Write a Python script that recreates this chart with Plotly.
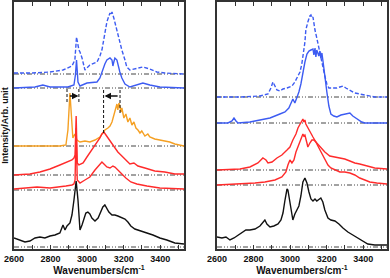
import plotly.graph_objects as go

# ---------------- data (wavenumber / cm-1, intensity above baseline, arb. units) ----------------
X_RANGE = [2600, 3530]
TICK_VALS = [2600, 2800, 3000, 3200, 3400]
TICK_TEXT = ["2600", "2800", "3000", "3200", "3400"]

# left panel
bd_l_w = [2600, 2700, 2797, 2868, 2917, 2933, 2942, 2950, 2955, 2961, 2972, 2988, 3015, 3054, 3070, 3081, 3092,
          3103, 3108, 3119, 3125, 3130, 3136, 3146, 3157, 3168, 3179, 3190, 3207, 3217, 3234, 3261, 3305, 3343,
          3381, 3425, 3530]
bd_l_h = [1, 1, 2, 4, 8, 14, 37, 26, 24, 22, 16, 4, 9, 12, 18, 24, 34, 46, 52, 58, 61, 59, 62, 56, 48, 40, 30,
          24, 14, 7, 4, 5, 7, 5, 2, 1, 0]
bd_l_off = 175

bs_l_w = [2600, 2715, 2758, 2797, 2895, 2928, 2936, 2942, 2950, 2961, 2999, 3054, 3070, 3081, 3097, 3108, 3125,
          3136, 3141, 3146, 3152, 3163, 3168, 3179, 3190, 3207, 3234, 3272, 3305, 3343, 3398, 3530]
bs_l_h = [0, 1, 3, 1, 1, 3, 13, 28, 6, 2, 5, 6, 10, 16, 24, 28, 30, 28, 22, 26, 30, 28, 23, 16, 10, 4, 1, 3, 5,
          3, 1, 0]
bs_l_off = 161

or_w = [2600, 2851, 2884, 2895, 2906, 2911, 2917, 2922, 2933, 2944, 2961, 2988, 3015, 3043, 3070, 3086, 3097,
        3114, 3125, 3136, 3146, 3157, 3163, 3168, 3174, 3179, 3185, 3190, 3201, 3212, 3223, 3234, 3245, 3256,
        3267, 3278, 3289, 3299, 3316, 3332, 3343, 3370, 3398, 3425, 3452, 3480, 3507, 3530]
or_h = [0, 0, 1, 16, 53, 36, 11, 8, 12, 6, 4, 5, 4, 6, 9, 13, 16, 18, 20, 24, 31, 38, 42, 36, 43, 40, 34, 38,
        28, 32, 24, 28, 21, 24, 18, 16, 13, 15, 10, 12, 9, 7, 6, 5, 4, 2, 1, 0]
or_off = 103

ra_w = [2600, 2687, 2742, 2797, 2851, 2890, 2917, 2928, 2934, 2940, 2946, 2955, 2978, 2999, 3026, 3054, 3070,
        3081, 3092, 3103, 3114, 3130, 3146, 3168, 3190, 3212, 3234, 3256, 3278, 3316, 3370, 3425, 3480, 3530]
ra_h = [0, 1, 3, 6, 10, 13, 15, 17, 20, 59, 12, 10, 12, 18, 25, 32, 37, 41, 43, 40, 37, 33, 29, 23, 19, 15, 11,
        12, 9, 7, 4, 3, 1, 1]
ra_off = 74

rb_w = [2600, 2660, 2726, 2797, 2851, 2884, 2917, 2928, 2934, 2940, 2946, 2961, 2988, 3015, 3043, 3070, 3081,
        3092, 3108, 3125, 3141, 3152, 3168, 3190, 3212, 3239, 3272, 3327, 3398, 3530]
rb_h = [1, 2, 3, 2, 3, 4, 5, 6, 10, 62, 10, 7, 10, 13, 20, 26, 28, 26, 23, 22, 24, 23, 20, 16, 12, 8, 6, 4, 2, 1]
rb_off = 59

bk_l_w = [2600, 2633, 2660, 2687, 2715, 2742, 2769, 2797, 2824, 2851, 2862, 2868, 2879, 2890, 2906, 2917, 2928,
          2940, 2950, 2955, 2961, 2972, 2983, 2993, 3004, 3015, 3026, 3043, 3060, 3075, 3086, 3097, 3108, 3119,
          3136, 3152, 3168, 3185, 3207, 3223, 3239, 3261, 3289, 3327, 3360, 3398, 3436, 3480, 3530]
bk_l_h = [9, 7, 5, 6, 9, 10, 9, 11, 12, 14, 19, 22, 17, 21, 24, 32, 47, 66, 47, 27, 17, 22, 29, 34, 35, 33, 29,
          26, 29, 35, 40, 42, 39, 35, 32, 32, 31, 30, 28, 25, 21, 18, 16, 14, 12, 9, 7, 4, 3]
bk_l_off = 2

# right panel
bd_r_w = [2600, 2726, 2835, 2879, 2895, 2906, 2917, 2928, 2944, 2961, 2983, 2999, 3010, 3026, 3043, 3054, 3064,
          3070, 3075, 3081, 3086, 3097, 3103, 3108, 3114, 3119, 3125, 3130, 3136, 3146, 3157, 3168, 3179, 3190,
          3201, 3212, 3234, 3256, 3272, 3289, 3305, 3327, 3354, 3381, 3409, 3425, 3463, 3530]
bd_r_h = [0, 0, 1, 3, 9, 15, 11, 7, 6, 8, 9, 10, 11, 15, 21, 25, 33, 39, 47, 55, 67, 75, 79, 81, 82, 79, 80, 72,
          67, 59, 49, 39, 30, 21, 13, 9, 9, 9, 10, 11, 9, 7, 4, 3, 2, 2, 0, 0]
bd_r_off = 152

bs_r_w = [2600, 2660, 2682, 2693, 2704, 2715, 2780, 2835, 2890, 2944, 2972, 2993, 3004, 3015, 3026, 3032, 3037,
          3048, 3059, 3070, 3081, 3092, 3103, 3114, 3125, 3130, 3136, 3141, 3146, 3157, 3163, 3168, 3174, 3179,
          3190, 3201, 3212, 3223, 3239, 3256, 3278, 3299, 3327, 3343, 3370, 3392, 3409, 3530]
bs_r_h = [0, 0, 2, 5, 2, 0, 1, 3, 5, 9, 11, 15, 19, 24, 20, 23, 27, 31, 39, 51, 61, 69, 72, 73, 74, 68, 75, 66,
          73, 67, 72, 65, 70, 63, 45, 31, 17, 9, 7, 6, 8, 9, 10, 7, 4, 1, 0, 0]
bs_r_off = 126

ru_w = [2600, 2726, 2780, 2824, 2851, 2868, 2879, 2901, 2928, 2955, 2983, 2999, 3015, 3032, 3043, 3054, 3064,
        3070, 3075, 3081, 3086, 3097, 3108, 3125, 3141, 3163, 3190, 3217, 3245, 3272, 3299, 3327, 3354, 3381,
        3420, 3463, 3530]
ru_h = [0, 1, 3, 7, 12, 10, 7, 8, 12, 15, 20, 23, 30, 36, 42, 46, 49, 51, 48, 50, 46, 42, 38, 33, 28, 23, 18, 14,
        13, 12, 11, 9, 7, 6, 4, 2, 1]
ru_off = 79

rl_w = [2600, 2726, 2808, 2862, 2917, 2955, 2977, 2988, 2999, 3010, 3021, 3032, 3043, 3054, 3064, 3070, 3075,
        3081, 3092, 3097, 3108, 3119, 3130, 3141, 3152, 3163, 3174, 3190, 3207, 3223, 3245, 3272, 3299, 3327,
        3354, 3381, 3409, 3436, 3474, 3530]
rl_h = [0, 1, 2, 3, 5, 8, 13, 20, 25, 22, 25, 33, 38, 42, 47, 51, 49, 50, 42, 38, 42, 45, 45, 43, 39, 35, 31, 25,
        20, 17, 15, 13, 13, 12, 10, 7, 5, 3, 2, 1]
rl_off = 64

bk_r_w = [2600, 2627, 2649, 2671, 2693, 2715, 2737, 2758, 2780, 2808, 2835, 2851, 2862, 2873, 2890, 2911, 2934,
          2950, 2961, 2972, 2983, 2988, 2999, 3010, 3015, 3026, 3037, 3048, 3059, 3070, 3081, 3092, 3103, 3114,
          3125, 3136, 3146, 3157, 3168, 3179, 3190, 3207, 3223, 3245, 3267, 3289, 3316, 3343, 3370, 3398, 3425,
          3463, 3530]
bk_r_h = [10, 9, 10, 7, 9, 12, 15, 17, 17, 18, 21, 25, 27, 23, 20, 21, 23, 27, 34, 47, 58, 57, 44, 31, 27, 33,
          37, 41, 51, 65, 69, 64, 55, 48, 46, 48, 46, 48, 49, 45, 37, 29, 27, 26, 23, 19, 15, 12, 9, 6, 3, 2, 2]
bk_r_off = 2

# annotation marks (left panel): peak shift guides
shift_lines = [(2890, 147, 161), (2955, 147, 161), (3090, 116, 161), (3180, 136, 161)]
shift_arrows = [(2897, 2953, 153), (3175, 3095, 153)]

BLUE = "#3d5cf2"
RED = "#ff2b2b"
ORANGE = "#f5a023"
BLACK = "#111111"
BASE = "#444444"

fig = go.Figure()


def add_spec(w, h, off, color, dash, xa, ya):
    fig.add_trace(go.Scatter(x=X_RANGE, y=[off, off], mode="lines", xaxis=xa, yaxis=ya,
                             line=dict(color=BASE, width=1, dash="5px,2px,1px,2px,1px,2px"),
                             hoverinfo="skip", showlegend=False))
    fig.add_trace(go.Scatter(x=w, y=[off + v for v in h], mode="lines", xaxis=xa, yaxis=ya,
                             line=dict(color=color, width=1.4, dash=dash), showlegend=False))


add_spec(bd_l_w, bd_l_h, bd_l_off, BLUE, "4px,2px", "x", "y")
add_spec(bs_l_w, bs_l_h, bs_l_off, BLUE, "solid", "x", "y")
add_spec(or_w, or_h, or_off, ORANGE, "solid", "x", "y")
add_spec(ra_w, ra_h, ra_off, RED, "solid", "x", "y")
add_spec(rb_w, rb_h, rb_off, RED, "solid", "x", "y")
add_spec(bk_l_w, bk_l_h, bk_l_off, BLACK, "solid", "x", "y")

add_spec(bd_r_w, bd_r_h, bd_r_off, BLUE, "4px,2px", "x2", "y2")
add_spec(bs_r_w, bs_r_h, bs_r_off, BLUE, "solid", "x2", "y2")
add_spec(ru_w, ru_h, ru_off, RED, "solid", "x2", "y2")
add_spec(rl_w, rl_h, rl_off, RED, "solid", "x2", "y2")
add_spec(bk_r_w, bk_r_h, bk_r_off, BLACK, "solid", "x2", "y2")

for xv, y0, y1 in shift_lines:
    fig.add_shape(type="line", x0=xv, x1=xv, y0=y0, y1=y1, xref="x", yref="y",
                  line=dict(color="#111", width=1, dash="3px,2px"))
for x_from, x_to, yv in shift_arrows:
    fig.add_annotation(x=x_to, y=yv, ax=x_from, ay=yv, xref="x", yref="y", axref="x", ayref="y",
                       text="", showarrow=True, arrowhead=2, arrowsize=1, arrowwidth=1.3, arrowcolor="#111")

FONT = "Liberation Sans, Arial, sans-serif"
xcommon = dict(range=X_RANGE, showline=True, linecolor="#333", linewidth=1.5, mirror="ticks",
               ticks="inside", ticklen=4, tickcolor="#333", tickwidth=1, automargin=False,
               tickmode="array", tickvals=TICK_VALS, ticktext=TICK_TEXT, showgrid=False, zeroline=False,
               minor=dict(tick0=2600, dtick=100, ticks="inside", ticklen=4, tickcolor="#333", tickwidth=1,
                          showgrid=False),
               tickfont=dict(family=FONT, size=9, color="#111", weight="bold"),
               title=dict(text="Wavenumbers/cm<sup>-1</sup>", font=dict(family=FONT, size=10, color="#111",
                                                                        weight="bold"), standoff=2))
ycommon = dict(range=[0, 247], showline=True, linecolor="#333", linewidth=1.5, mirror=True, ticks="",
               showticklabels=False, showgrid=False, zeroline=False, automargin=False)

fig.update_layout(
    template="none",
    width=390, height=278, margin=dict(l=14, r=3, t=2, b=29, pad=0),
    paper_bgcolor="white", plot_bgcolor="white",
    xaxis=dict(domain=[0, 0.4558], anchor="y", **xcommon),
    xaxis2=dict(domain=[0.5442, 1.0], anchor="y2", **xcommon),
    yaxis=dict(domain=[0, 1], anchor="x",
               title=dict(text="Intensity/Arb. unit", font=dict(family=FONT, size=9, color="#111",
                                                                 weight="bold"), standoff=2),
               **ycommon),
    yaxis2=dict(domain=[0, 1], anchor="x2", **ycommon),
)

fig.write_html("out.html", config={"displayModeBar": False},
               post_script="document.body.style.margin='0px';document.body.style.overflow='hidden';")
